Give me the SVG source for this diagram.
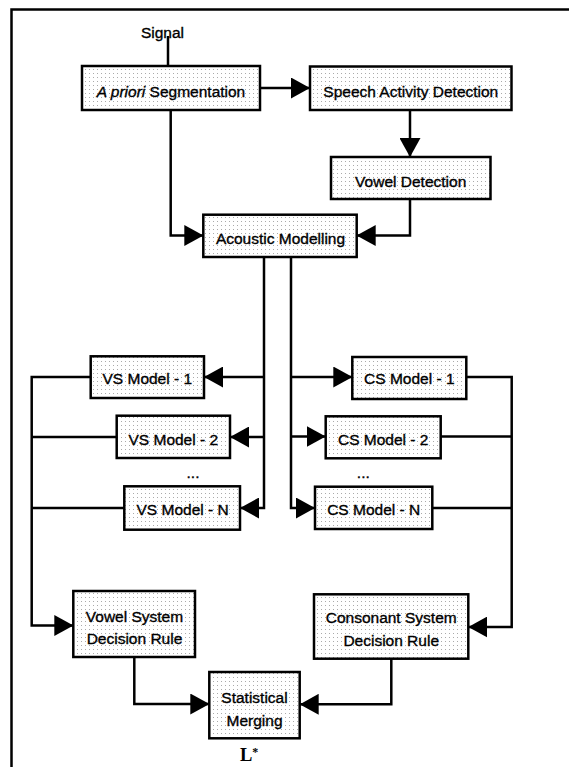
<svg xmlns="http://www.w3.org/2000/svg" width="569" height="767" viewBox="0 0 569 767">
<style>
.box{fill:url(#dots);stroke:#000;stroke-width:2.5}
.t{font-family:"Liberation Sans",Arial,sans-serif;font-size:15.5px;fill:#000;stroke:#000;stroke-width:0.35;text-anchor:middle}
.c{fill:none;stroke:#000;stroke-width:2.5;stroke-linejoin:miter}
.a{marker-end:url(#arr)}
</style>
<defs>
<pattern id="dots" width="4" height="4" patternUnits="userSpaceOnUse">
<rect width="4" height="4" fill="#fff"/>
<rect x="1" y="1" width="1" height="1" fill="#aaa"/>
</pattern>
<marker id="arr" markerUnits="userSpaceOnUse" markerWidth="19" markerHeight="21" refX="19" refY="10.5" orient="auto">
<path d="M0,0 L19,10.5 L0,21 z" fill="#000"/>
</marker>
</defs>
<rect width="569" height="767" fill="#fff"/>
<path d="M11.5,767 V9.5 H569" fill="none" stroke="#000" stroke-width="2.5"/>

<g id="connectors">
<path class="c" d="M168,36 V66"/>
<path class="c a" d="M260,88 H310"/>
<path class="c a" d="M410,110 V157"/>
<path class="c a" d="M170.7,110 V235.5 H203.3"/>
<path class="c a" d="M410,199 V235.5 H356.7"/>
<path class="c a" d="M264,257 V508 H240"/>
<path class="c a" d="M264,377 H204"/>
<path class="c a" d="M264,437 H230"/>
<path class="c a" d="M291,257 V508 H315"/>
<path class="c a" d="M291,377 H352.3"/>
<path class="c a" d="M291,436.5 H325.7"/>
<path class="c a" d="M90.7,377 H31.7 V625.5 H73.3"/>
<path class="c" d="M116.7,437 H31.7"/>
<path class="c" d="M124.3,508 H31.7"/>
<path class="c a" d="M466.3,377 H511.7 V627 H468.3"/>
<path class="c" d="M440.7,436.5 H511.7"/>
<path class="c" d="M432.3,508 H511.7"/>
<path class="c a" d="M134.3,657 V704 H209.3"/>
<path class="c a" d="M391.3,658.7 V704.3 H299.7"/>
</g>

<g id="signal"><text class="t" x="162.5" y="37.5">Signal</text></g>

<g id="apriori">
<rect class="box" x="82" y="66" width="178" height="44"/>
<text class="t" x="171" y="96.5"><tspan font-style="italic">A priori</tspan> Segmentation</text>
</g>
<g id="sad">
<rect class="box" x="310" y="66.5" width="201.5" height="43.5"/>
<text class="t" x="410.8" y="96.5">Speech Activity Detection</text>
</g>
<g id="vowel-detection">
<rect class="box" x="331" y="157" width="159.5" height="42"/>
<text class="t" x="410.7" y="186.5">Vowel Detection</text>
</g>
<g id="acoustic">
<rect class="box" x="203.3" y="214.7" width="153.4" height="42.3"/>
<text class="t" x="280.5" y="243.5">Acoustic Modelling</text>
</g>

<g id="vs1">
<rect class="box" x="90.7" y="356.3" width="113.3" height="41.7"/>
<text class="t" x="147.3" y="384">VS Model - 1</text>
</g>
<g id="vs2">
<rect class="box" x="116.7" y="415.7" width="113.3" height="42.3"/>
<text class="t" x="173.3" y="444.5">VS Model - 2</text>
</g>
<g id="vs-dots"><text class="t" x="193" y="477.5">...</text></g>
<g id="vsn">
<rect class="box" x="124.3" y="486.3" width="115.7" height="43.4"/>
<text class="t" x="182.6" y="515">VS Model - N</text>
</g>

<g id="cs1">
<rect class="box" x="352.3" y="357" width="114" height="42"/>
<text class="t" x="409.3" y="384">CS Model - 1</text>
</g>
<g id="cs2">
<rect class="box" x="325.7" y="416.3" width="115" height="42"/>
<text class="t" x="383.2" y="445">CS Model - 2</text>
</g>
<g id="cs-dots"><text class="t" x="363.3" y="477.5">...</text></g>
<g id="csn">
<rect class="box" x="315" y="486.7" width="117.3" height="42.3"/>
<text class="t" x="373.7" y="515">CS Model - N</text>
</g>

<g id="vsdr">
<rect class="box" x="73.3" y="591" width="121.7" height="66"/>
<text class="t" x="134.5" y="622">Vowel System</text>
<text class="t" x="134.5" y="643.7">Decision Rule</text>
</g>
<g id="csdr">
<rect class="box" x="314" y="594.3" width="154.3" height="64.4"/>
<text class="t" x="391.2" y="623.3">Consonant System</text>
<text class="t" x="391.2" y="646">Decision Rule</text>
</g>
<g id="merging">
<rect class="box" x="209.3" y="672" width="90.4" height="66.3"/>
<text class="t" x="254.5" y="702.7">Statistical</text>
<text class="t" x="254.5" y="726">Merging</text>
</g>
<g id="lstar">
<text x="240" y="761" font-family="'Liberation Serif','Times New Roman',serif" font-size="18.5" font-weight="bold" fill="#000">L<tspan font-size="12" dy="-5">*</tspan></text>
</g>
</svg>
